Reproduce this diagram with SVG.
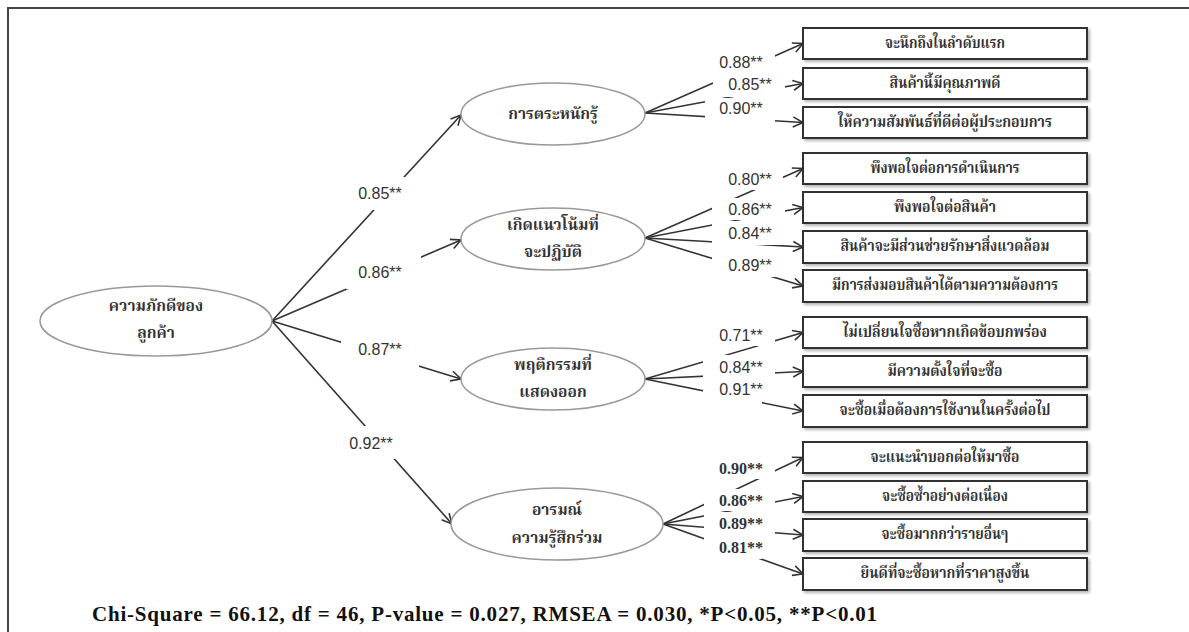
<svg xmlns="http://www.w3.org/2000/svg" width="1189" height="632" viewBox="0 0 1189 632">
<defs>
<marker id="arr" viewBox="0 0 12 12" refX="11" refY="6" markerWidth="12" markerHeight="12" markerUnits="userSpaceOnUse" orient="auto">
<path d="M1,1 L11,6 L1,11" fill="none" stroke="#333" stroke-width="1.6"/>
</marker>
<filter id="sh" x="-5%" y="-20%" width="110%" height="150%">
<feGaussianBlur in="SourceAlpha" stdDeviation="1.5"/>
<feOffset dx="1.5" dy="2" result="b"/>
<feComponentTransfer><feFuncA type="linear" slope="0.3"/></feComponentTransfer>
<feMerge><feMergeNode/><feMergeNode in="SourceGraphic"/></feMerge>
</filter>
</defs>
<style>
.ell{fill:#fff;stroke:#999;stroke-width:1.5}
.box{fill:#fff;stroke:#333;stroke-width:2}
.ln{stroke:#333;stroke-width:1.6;fill:none}
.bg{fill:#fff}
.lab{font-family:"Liberation Sans",Arial,sans-serif;font-size:16px;fill:#333;text-anchor:middle;dominant-baseline:central}
.labs{font-family:"Liberation Serif","Times New Roman",serif;font-size:16px;font-weight:bold;fill:#333;text-anchor:middle;dominant-baseline:central}
.th{font-family:"Noto Serif Thai","Noto Sans Thai","TH Sarabun New","Loma","Garuda","Liberation Serif",serif;font-size:15px;font-weight:bold;fill:#333;text-anchor:middle;dominant-baseline:central}
.the{font-family:"Noto Serif Thai","Noto Sans Thai","TH Sarabun New","Loma","Garuda","Liberation Serif",serif;font-size:15.5px;font-weight:bold;fill:#333;text-anchor:middle;dominant-baseline:central}
.foot{font-family:"Liberation Serif","Times New Roman",serif;font-size:21px;font-weight:bold;fill:#111}
</style>
<rect x="0" y="0" width="1189" height="632" fill="#fff"/>
<rect x="8" y="8" width="1200" height="700" fill="none" stroke="#444" stroke-width="2"/>

<g id="connectors">
<line class="ln" x1="272" y1="321" x2="461" y2="115" marker-end="url(#arr)"/>
<line class="ln" x1="272" y1="321" x2="461" y2="240" marker-end="url(#arr)"/>
<line class="ln" x1="272" y1="321" x2="461" y2="379" marker-end="url(#arr)"/>
<line class="ln" x1="272" y1="321" x2="452" y2="524" marker-end="url(#arr)"/>

<line class="ln" x1="645" y1="113" x2="803" y2="43.5" marker-end="url(#arr)"/>
<line class="ln" x1="645" y1="113" x2="803" y2="83.5" marker-end="url(#arr)"/>
<line class="ln" x1="645" y1="113" x2="803" y2="122.5" marker-end="url(#arr)"/>

<line class="ln" x1="645" y1="238" x2="803" y2="168.5" marker-end="url(#arr)"/>
<line class="ln" x1="645" y1="238" x2="803" y2="207.5" marker-end="url(#arr)"/>
<line class="ln" x1="645" y1="238" x2="803" y2="247" marker-end="url(#arr)"/>
<line class="ln" x1="645" y1="238" x2="803" y2="286" marker-end="url(#arr)"/>

<line class="ln" x1="645" y1="379" x2="803" y2="332.5" marker-end="url(#arr)"/>
<line class="ln" x1="645" y1="379" x2="803" y2="371.5" marker-end="url(#arr)"/>
<line class="ln" x1="645" y1="379" x2="803" y2="411" marker-end="url(#arr)"/>

<line class="ln" x1="663" y1="524" x2="803" y2="457.5" marker-end="url(#arr)"/>
<line class="ln" x1="663" y1="524" x2="803" y2="496.5" marker-end="url(#arr)"/>
<line class="ln" x1="663" y1="524" x2="803" y2="535" marker-end="url(#arr)"/>
<line class="ln" x1="663" y1="524" x2="803" y2="574" marker-end="url(#arr)"/>

<rect class="bg" x="341" y="177" width="80" height="33"/>
<text class="lab" x="380" y="193">0.85**</text>
<rect class="bg" x="346" y="256" width="75" height="33"/>
<text class="lab" x="380" y="272">0.86**</text>
<rect class="bg" x="341" y="333" width="78" height="34"/>
<text class="lab" x="380" y="349">0.87**</text>
<rect class="bg" x="331" y="426" width="80" height="33"/>
<text class="lab" x="371" y="443">0.92**</text>

<rect class="bg" x="705" y="50" width="70" height="22"/>
<text class="lab" x="741" y="62">0.88**</text>
<rect class="bg" x="713" y="72" width="72" height="25"/>
<text class="lab" x="750" y="84">0.85**</text>
<rect class="bg" x="705" y="98" width="70" height="24"/>
<text class="lab" x="741" y="108">0.90**</text>

<rect class="bg" x="712" y="167" width="71" height="23"/>
<text class="lab" x="750" y="179">0.80**</text>
<rect class="bg" x="712" y="198" width="73" height="22"/>
<text class="lab" x="750" y="209">0.86**</text>
<rect class="bg" x="712" y="221" width="73" height="24"/>
<text class="lab" x="750" y="233">0.84**</text>
<rect class="bg" x="712" y="253" width="63" height="24"/>
<text class="lab" x="750" y="265">0.89**</text>

<rect class="bg" x="705" y="323" width="70" height="23"/>
<text class="lab" x="741" y="335">0.71**</text>
<rect class="bg" x="703" y="355" width="72" height="23"/>
<text class="lab" x="741" y="367">0.84**</text>
<rect class="bg" x="703" y="379" width="59" height="25"/>
<text class="lab" x="741" y="389">0.91**</text>

<rect class="bg" x="704" y="456" width="71" height="23"/>
<text class="labs" x="741" y="468">0.90**</text>
<rect class="bg" x="704" y="489" width="71" height="22"/>
<text class="labs" x="741" y="500">0.86**</text>
<rect class="bg" x="704" y="512" width="71" height="22"/>
<text class="labs" x="741" y="523">0.89**</text>
<rect class="bg" x="704" y="535" width="58" height="24"/>
<text class="labs" x="741" y="547">0.81**</text>
</g>

<g id="n-root"><ellipse class="ell" cx="156" cy="321" rx="116" ry="35"/><text class="the" x="156" y="307">ความภักดีของ</text><text class="the" x="156" y="334">ลูกค้า</text></g>
<g id="n-aware"><ellipse class="ell" cx="553" cy="114" rx="92" ry="31"/><text class="the" x="553" y="115">การตระหนักรู้</text></g>
<g id="n-intent"><ellipse class="ell" cx="553" cy="239" rx="92" ry="31"/><text class="the" x="553" y="226">เกิดแนวโน้มที่</text><text class="the" x="553" y="253">จะปฏิบัติ</text></g>
<g id="n-behav"><ellipse class="ell" cx="553" cy="379" rx="92" ry="31"/><text class="the" x="553" y="366">พฤติกรรมที่</text><text class="the" x="553" y="393">แสดงออก</text></g>
<g id="n-emot"><ellipse class="ell" cx="557" cy="524" rx="106" ry="36"/><text class="the" x="557" y="511">อารมณ์</text><text class="the" x="557" y="539">ความรู้สึกร่วม</text></g>

<g id="b1"><rect class="box" filter="url(#sh)" x="803" y="28" width="284" height="31"/><text class="th" x="945" y="43.5" textLength="120" lengthAdjust="spacingAndGlyphs">จะนึกถึงในลำดับแรก</text></g>
<g id="b2"><rect class="box" filter="url(#sh)" x="803" y="68" width="284" height="31"/><text class="th" x="945" y="83.5" textLength="111" lengthAdjust="spacingAndGlyphs">สินค้านี้มีคุณภาพดี</text></g>
<g id="b3"><rect class="box" filter="url(#sh)" x="803" y="107" width="284" height="31"/><text class="th" x="945" y="122.5" textLength="214" lengthAdjust="spacingAndGlyphs">ให้ความสัมพันธ์ที่ดีต่อผู้ประกอบการ</text></g>
<g id="b4"><rect class="box" filter="url(#sh)" x="803" y="153" width="284" height="31"/><text class="th" x="945" y="168.5" textLength="149" lengthAdjust="spacingAndGlyphs">พึงพอใจต่อการดำเนินการ</text></g>
<g id="b5"><rect class="box" filter="url(#sh)" x="803" y="192" width="284" height="31"/><text class="th" x="945" y="207.5" textLength="102" lengthAdjust="spacingAndGlyphs">พึงพอใจต่อสินค้า</text></g>
<g id="b6"><rect class="box" filter="url(#sh)" x="803" y="231" width="284" height="32"/><text class="th" x="945" y="247" textLength="209" lengthAdjust="spacingAndGlyphs">สินค้าจะมีส่วนช่วยรักษาสิ่งแวดล้อม</text></g>
<g id="b7"><rect class="box" filter="url(#sh)" x="803" y="270" width="284" height="32"/><text class="th" x="945" y="286" textLength="226" lengthAdjust="spacingAndGlyphs">มีการส่งมอบสินค้าได้ตามความต้องการ</text></g>
<g id="b8"><rect class="box" filter="url(#sh)" x="803" y="317" width="284" height="31"/><text class="th" x="945" y="332.5" textLength="204" lengthAdjust="spacingAndGlyphs">ไม่เปลี่ยนใจซื้อหากเกิดข้อบกพร่อง</text></g>
<g id="b9"><rect class="box" filter="url(#sh)" x="803" y="356" width="284" height="31"/><text class="th" x="945" y="371.5" textLength="115" lengthAdjust="spacingAndGlyphs">มีความตั้งใจที่จะซื้อ</text></g>
<g id="b10"><rect class="box" filter="url(#sh)" x="803" y="395" width="284" height="32"/><text class="th" x="945" y="411" textLength="211" lengthAdjust="spacingAndGlyphs">จะซื้อเมื่อต้องการใช้งานในครั้งต่อไป</text></g>
<g id="b11"><rect class="box" filter="url(#sh)" x="803" y="442" width="284" height="31"/><text class="th" x="945" y="457.5" textLength="149" lengthAdjust="spacingAndGlyphs">จะแนะนำบอกต่อให้มาซื้อ</text></g>
<g id="b12"><rect class="box" filter="url(#sh)" x="803" y="481" width="284" height="31"/><text class="th" x="945" y="496.5" textLength="126" lengthAdjust="spacingAndGlyphs">จะซื้อซ้ำอย่างต่อเนื่อง</text></g>
<g id="b13"><rect class="box" filter="url(#sh)" x="803" y="519" width="284" height="32"/><text class="th" x="945" y="535" textLength="127" lengthAdjust="spacingAndGlyphs">จะซื้อมากกว่ารายอื่นๆ</text></g>
<g id="b14"><rect class="box" filter="url(#sh)" x="803" y="558" width="284" height="32"/><text class="th" x="945" y="574" textLength="169" lengthAdjust="spacingAndGlyphs">ยินดีที่จะซื้อหากที่ราคาสูงขึ้น</text></g>

<text class="foot" x="92" y="621" textLength="785" lengthAdjust="spacing">Chi-Square = 66.12, df = 46, P-value = 0.027, RMSEA = 0.030, *P&lt;0.05, **P&lt;0.01</text>
</svg>
